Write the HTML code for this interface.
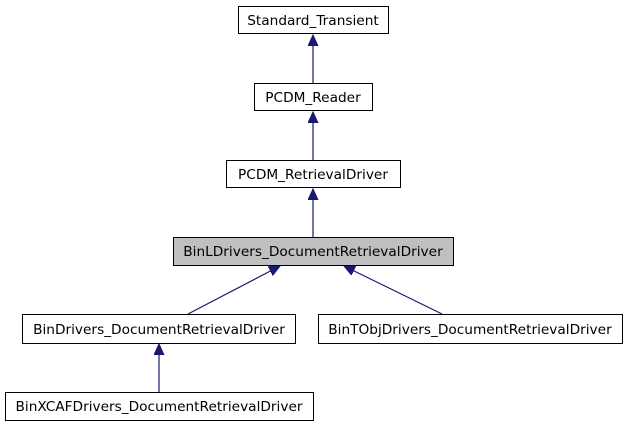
<!DOCTYPE html>
<html><head><meta charset="utf-8"><style>
html,body{margin:0;padding:0;background:#fff;width:625px;height:427px;overflow:hidden}
svg text{font-family:"DejaVu Sans","Liberation Sans",sans-serif;font-size:13.7px;fill:#000}
</style></head><body>
<svg width="625" height="427" viewBox="0 0 625 427" xmlns="http://www.w3.org/2000/svg">
<defs>
<marker id="a" markerWidth="12" markerHeight="12" refX="11" refY="5" orient="auto" markerUnits="userSpaceOnUse">
<path d="M0,0 L11,5 L0,10 z" fill="#191970" stroke="#191970"/>
</marker>
</defs>
<g stroke="#191970" stroke-width="1.2" fill="none">
<line x1="313" y1="83" x2="313" y2="35" marker-end="url(#a)"/>
<line x1="313" y1="160" x2="313" y2="112" marker-end="url(#a)"/>
<line x1="313" y1="237" x2="313" y2="189" marker-end="url(#a)"/>
<line x1="188" y1="314" x2="280" y2="266" marker-end="url(#a)"/>
<line x1="442" y1="314" x2="344" y2="266" marker-end="url(#a)"/>
<line x1="159" y1="392" x2="159" y2="344" marker-end="url(#a)"/>
</g>
<g stroke="#000" stroke-width="1" fill="#fff">
<rect x="238.5" y="6.5" width="150" height="27"/>
<rect x="254.5" y="83.5" width="118" height="27"/>
<rect x="226.5" y="160.5" width="174" height="27"/>
<rect x="173.5" y="237.5" width="280" height="28" fill="#bfbfbf"/>
<rect x="22.5" y="314.5" width="273" height="29"/>
<rect x="318.5" y="314.5" width="304" height="29"/>
<rect x="5.5" y="392.5" width="308" height="28"/>
</g>
<g text-anchor="middle">
<text x="313" y="25">Standard_Transient</text>
<text x="313" y="102">PCDM_Reader</text>
<text x="313" y="179">PCDM_RetrievalDriver</text>
<text x="313" y="256">BinLDrivers_DocumentRetrievalDriver</text>
<text x="159" y="334">BinDrivers_DocumentRetrievalDriver</text>
<text x="470" y="334">BinTObjDrivers_DocumentRetrievalDriver</text>
<text x="159" y="411">BinXCAFDrivers_DocumentRetrievalDriver</text>
</g>
</svg>
</body></html>
